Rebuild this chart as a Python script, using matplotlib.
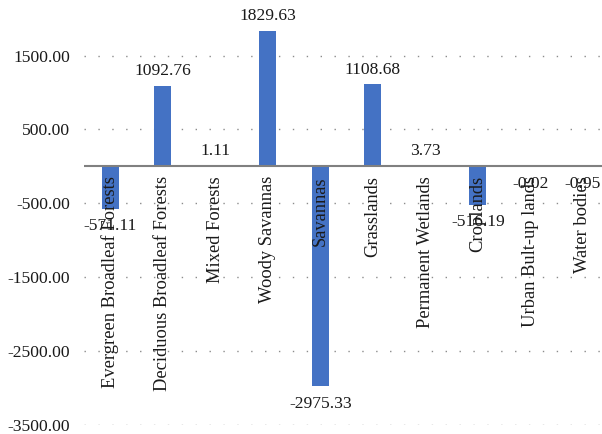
import matplotlib
matplotlib.use("Agg")
import matplotlib.pyplot as plt

plt.rcParams['font.family'] = ['Liberation Serif', 'DejaVu Serif']

categories = ["Evergreen Broadleaf Forests", "Deciduous Broadleaf Forests",
              "Mixed Forests", "Woody Savannas", "Savannas", "Grasslands",
              "Permanent Wetlands", "Croplands", "Urban Bult-up lands",
              "Water bodies"]
values = [-571.11, 1092.76, 1.11, 1829.63, -2975.33, 1108.68, 3.73,
          -516.19, -0.02, -0.95]
yticks = [1500, 500, -500, -1500, -2500, -3500]

fig = plt.figure(figsize=(6.02, 4.34), dpi=100)
ax = fig.add_axes([84 / 602, 9 / 434, 525 / 602, 406.4 / 434])

x = range(len(categories))
ax.bar(x, values, width=0.32, color='#4472C4', zorder=3)

ax.set_xlim(-0.5, len(categories) - 0.5)
ax.set_ylim(-3500, 2000)
ax.set_yticks(yticks)
ax.set_yticklabels([f"{v:.2f}" for v in yticks], fontsize=12.6, color='#1a1a1a')
ax.set_xticks([])
ax.tick_params(axis='y', length=0, pad=10)
for s in ax.spines.values():
    s.set_visible(False)

for t in yticks:
    ax.axhline(t, color='#8c8c8c', lw=1.0, ls=(0, (1, 9)), zorder=1)
ax.axhline(0, color='#808080', lw=1.5, zorder=4)

# value labels just past the bar ends
for i, v in enumerate(values):
    if v >= 0:
        ax.annotate(f"{v:.2f}", (i, v), xytext=(0, 5), textcoords='offset points',
                    ha='center', va='bottom', fontsize=12.6, color='#1a1a1a', zorder=6)
    else:
        ax.annotate(f"{v:.2f}", (i, v), xytext=(0, -7), textcoords='offset points',
                    ha='center', va='top', fontsize=12.6, color='#1a1a1a', zorder=6)

# category names hang under the zero line
for i, name in enumerate(categories):
    ax.annotate(name, (i, 0), xytext=(0, -7), textcoords='offset points',
                rotation=90, ha='center', va='top', fontsize=13.3,
                color='#1a1a1a', zorder=5)

fig.savefig("out.png", dpi=100)
